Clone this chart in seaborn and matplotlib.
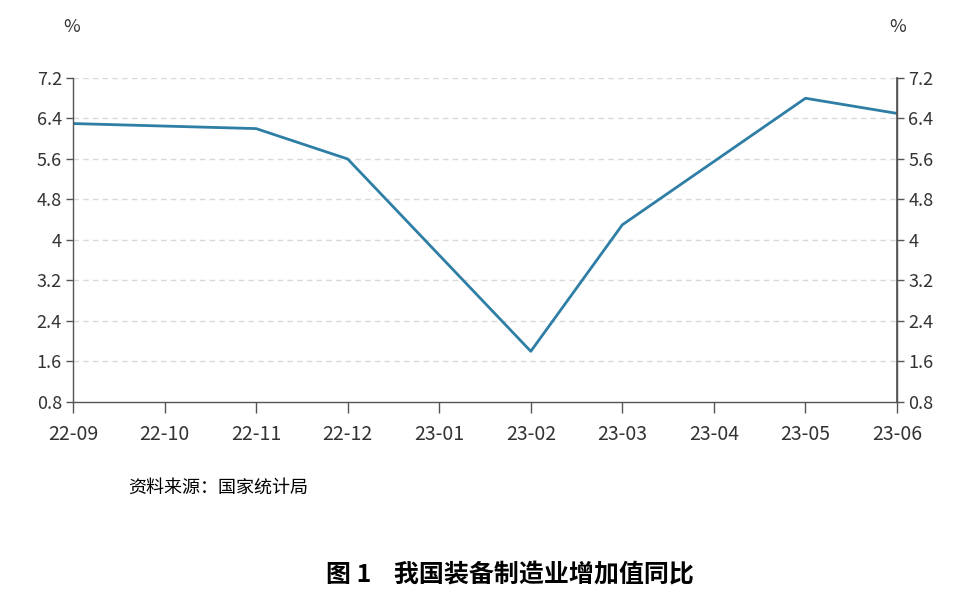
import numpy as np
import pandas as pd
import seaborn as sns
import matplotlib.pyplot as plt

# axis categories and the months that have data
months = ['22-09', '22-10', '22-11', '22-12', '23-01', '23-02', '23-03', '23-04', '23-05', '23-06']
data_months = ['22-09', '22-11', '22-12', '23-02', '23-03', '23-05', '23-06']
values = [6.3, 6.2, 5.6, 1.8, 4.3, 6.8, 6.5]
yticks = [0.8, 1.6, 2.4, 3.2, 4, 4.8, 5.6, 6.4, 7.2]
ytick_labels = ['0.8', '1.6', '2.4', '3.2', '4', '4.8', '5.6', '6.4', '7.2']

sns.set_theme(style='white', rc={'xtick.bottom': True, 'ytick.left': True, 'ytick.right': True,
                                 'xtick.major.size': 6, 'ytick.major.size': 5})
plt.rcParams['font.family'] = ['Microsoft YaHei', 'Noto Sans CJK SC', 'DejaVu Sans']

df = pd.DataFrame({'pos': [months.index(m) for m in data_months], 'val': values})

fig = plt.figure(figsize=(9.68, 5.99), dpi=100)
ax = fig.add_axes([0.0754, 0.329, 0.8513, 0.5408])
sns.lineplot(data=df, x='pos', y='val', ax=ax, color='#2e7ea6', linewidth=2)

ax.set_xlim(0, len(months) - 1)
ax.set_ylim(0.8, 7.2)
ax.set_xticks(range(len(months)))
ax.set_xticklabels(months, fontsize=14, color='#333333')
ax.set_yticks(yticks)
ax.set_yticklabels(ytick_labels, fontsize=13, color='#333333')
ax.set_xlabel('')
ax.set_ylabel('')
for y in yticks[1:]:
    ax.axhline(y, color='#d9d9d9', linestyle=(0, (4, 3)), linewidth=1, zorder=0)

ax.spines['top'].set_visible(False)
for s in ['left', 'right', 'bottom']:
    ax.spines[s].set_visible(True)
    ax.spines[s].set_color('#555555')
    ax.spines[s].set_linewidth(1)
ax.tick_params(axis='x', direction='out', length=8, width=1, color='#555555', bottom=True, pad=8)
ax.tick_params(axis='y', direction='out', length=5, width=1, color='#555555', left=True, pad=3)

ax2 = ax.twinx()
ax2.set_ylim(0.8, 7.2)
ax2.set_yticks(yticks)
ax2.set_yticklabels(ytick_labels, fontsize=13, color='#333333')
ax2.tick_params(axis='y', direction='out', length=5, width=1, color='#555555', right=True, pad=3)
for s in ['top', 'left', 'bottom']:
    ax2.spines[s].set_visible(False)
ax2.spines['right'].set_color('#555555')
ax2.grid(False)

fig.text(0.074, 0.955, '%', fontsize=13, color='#333333', ha='center', va='center')
fig.text(0.927, 0.955, '%', fontsize=13, color='#333333', ha='center', va='center')
fig.text(0.132, 0.185, '资料来源：国家统计局', fontsize=13, color='#000000', va='center')
fig.text(0.527, 0.04, '图 1    我国装备制造业增加值同比', fontsize=18, fontweight='bold',
         color='#000000', ha='center', va='center')

fig.savefig('out.png', dpi=100)
